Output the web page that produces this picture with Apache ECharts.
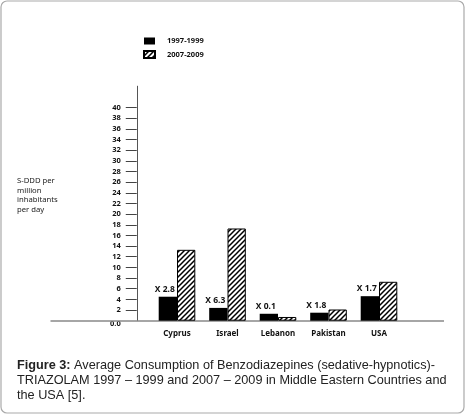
<!DOCTYPE html>
<html><head><meta charset="utf-8">
<script src="https://cdn.jsdelivr.net/npm/echarts@6/dist/echarts.min.js"></script>
<style>html,body{margin:0;padding:0;background:#fff}#c{width:466px;height:415px}</style>
</head><body><div id="c"></div>
<script>
const categories = ['Cyprus', 'Israel', 'Lebanon', 'Pakistan', 'USA'];
const period1 = [4.5, 2.4, 1.3, 1.5, 4.6];
const period2 = [13.3, 17.3, 0.7, 2.1, 7.3];
const ratioLabels = ['X 2.8', 'X 6.3', 'X 0.1', 'X 1.8', 'X 1.7'];
const yTicks = [0, 2, 4, 6, 8, 10, 12, 14, 16, 18, 20, 22, 24, 26, 28, 30, 32, 34, 36, 38, 40];
const seriesNames = ['1997-1999', '2007-2009'];
const yAxisTitle = 'S-DDD per\nmillion\ninhabitants\nper day';
const captionBold = 'Figure 3:';
const captionRest = ' Average Consumption of Benzodiazepines (sedative-hypnotics)-\nTRIAZOLAM 1997 \u2013 1999 and 2007 \u2013 2009 in Middle Eastern Countries and\nthe USA [5].';

function makeHatch() {
  const s = 5;
  const c = document.createElement('canvas');
  c.width = s; c.height = s;
  const g = c.getContext('2d');
  g.fillStyle = '#fff'; g.fillRect(0, 0, s, s);
  g.strokeStyle = '#000'; g.lineWidth = 1.5;
  g.beginPath();
  for (let k = -s; k <= s; k += s) { g.moveTo(k - 1, s + 1); g.lineTo(k + s + 1, -1); }
  g.stroke();
  return c;
}
const hatch = { image: makeHatch(), repeat: 'repeat' };
const F = '"Noto Sans", sans-serif';
const CF = '"Liberation Sans", Arial, sans-serif';

const chart = echarts.init(document.getElementById('c'), null, { renderer: 'canvas' });
chart.setOption({
  animation: false,
  title: [
    { text: yAxisTitle, left: 17, top: 176, padding: 0,
      textStyle: { fontFamily: F, fontSize: 7.7, fontWeight: 'normal', color: '#222', lineHeight: 9.6 } },
    { text: '{b|' + captionBold + '}' + captionRest, left: 17, top: 358, padding: 0,
      textStyle: { fontFamily: CF, fontSize: 12.7, fontWeight: 'normal', color: '#222', lineHeight: 15,
        rich: { b: { fontFamily: CF, fontSize: 12.7, fontWeight: 'bold', color: '#222', lineHeight: 15 } } } }
  ],
  legend: {
    orient: 'vertical', left: 143, top: 37, padding: 0, itemWidth: 11, itemHeight: 7, itemGap: 5,
    icon: 'rect',
    textStyle: { fontFamily: F, fontSize: 7.5, fontWeight: 'bold', color: '#111', padding: [0, 0, 0, 7] },
    data: seriesNames
  },
  grid: { left: 151.75, right: 61.75, top: 86.2, bottom: 94.3, containLabel: false },
  xAxis: {
    type: 'category', data: categories,
    axisLine: { show: false }, axisTick: { show: false },
    axisLabel: { fontFamily: F, fontSize: 8, fontWeight: 'bold', color: '#111', margin: 9 }
  },
  yAxis: {
    type: 'value', min: 0, max: 44, offset: 15,
    splitLine: { show: false },
    axisLine: { show: true, lineStyle: { color: '#555', width: 1 } },
    axisTick: { show: true, length: 11, lineStyle: { color: '#444', width: 1 }, customValues: yTicks.filter(v => v > 0) },
    axisLabel: { fontFamily: F, fontSize: 7.5, fontWeight: 'bold', color: '#111', margin: 16, customValues: yTicks,
      formatter: v => v === 0 ? '{z|0.0}' : String(v),
      rich: { z: { fontFamily: F, fontSize: 7.5, fontWeight: 'bold', color: '#111', padding: [7, 0, 0, 0] } } }
  },
  series: [
    { name: seriesNames[0], type: 'bar', data: period1, barWidth: 18.3, barGap: '0%',
      itemStyle: { color: '#000' },
      label: { show: true, position: 'top', distance: 3, offset: [-3, 0], formatter: p => ratioLabels[p.dataIndex],
        fontFamily: F, fontSize: 8.5, fontWeight: 'bold', color: '#111' } },
    { name: seriesNames[1], type: 'bar', data: period2, barWidth: 18.3,
      itemStyle: { color: hatch, borderColor: '#000', borderWidth: 1 } }
  ],
  graphic: [
    { type: 'line', shape: { x1: 50.5, y1: 320.9, x2: 444, y2: 320.9 }, style: { stroke: '#888', lineWidth: 1.5 }, z: 1 },
    { type: 'rect', shape: { x: 1, y: 1, width: 463, height: 412, r: 6 }, style: { fill: 'none', stroke: '#aaa', lineWidth: 1.2 }, z: 0 }
  ]
});
</script></body></html>
